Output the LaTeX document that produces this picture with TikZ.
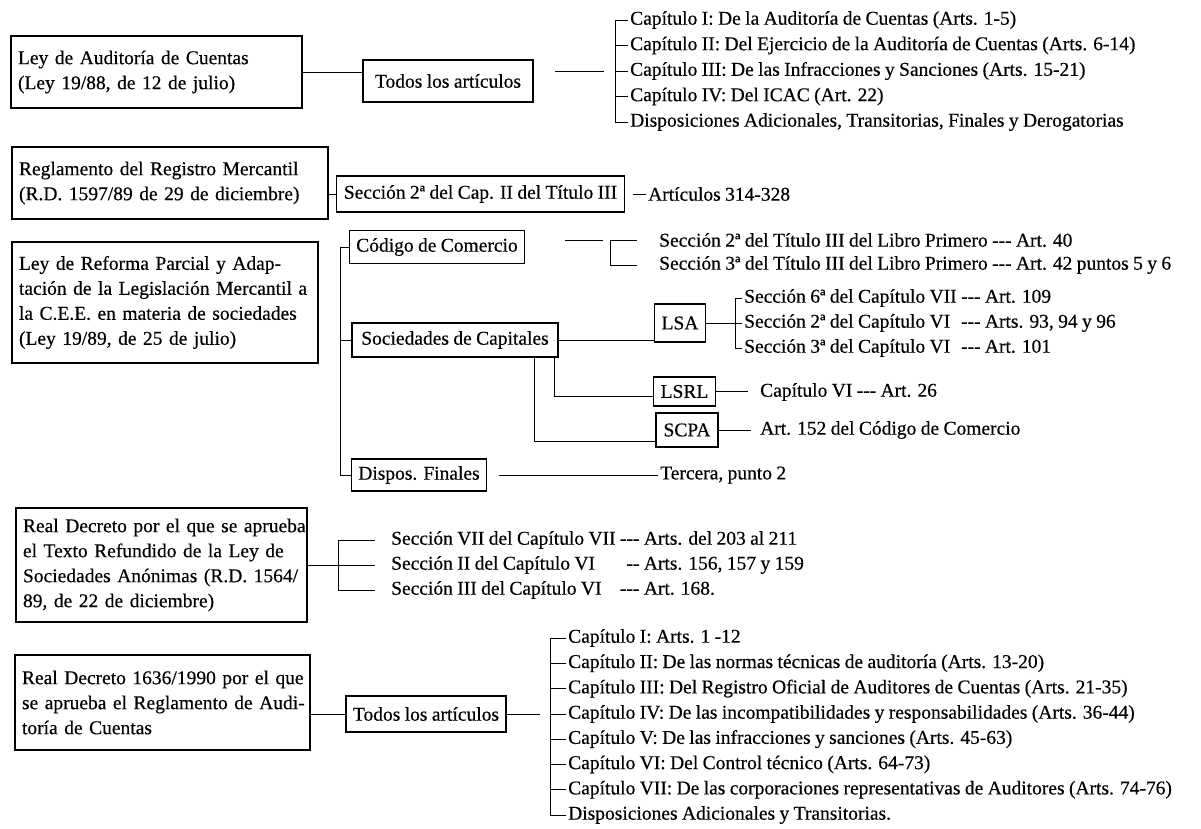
\documentclass[tikz,border=0pt]{standalone}
\usepackage{fontspec}
\setmainfont{Liberation Serif}[WordSpace=0.9,FakeBold=0.4]
\usetikzlibrary{calc}
\newcommand\fs{\fontsize{19.5}{25}\selectfont}
\newcommand\hy{-{}-{}-}
\newlength\wa
\newlength\wb
\tikzset{
  bx/.style={draw, line width=1.1pt, inner xsep=7pt, inner ysep=3pt, font=\fs, align=center},
  bxt/.style={bx, align=left, execute at begin node={\setlength\parindent{0pt}}},
  lt/.style={anchor=west, inner xsep=2pt, inner ysep=1pt, font=\fs},
  cn/.style={line width=0.9pt},
}
\begin{document}
\settowidth\wa{\fs Sección VII del Capítulo VII \hy}%
\settowidth\wb{\fs Sección 6ª del Capítulo VII \hy}%
\begin{tikzpicture}[x=1pt,y=-1pt]
\fill[white] (0,0) rectangle (1201,829);
\useasboundingbox (0,0) rectangle (1201,829);

% ---------- Group 1
\node[bxt, text width=277pt, minimum height=72pt] (b1) at (156.5,72) {Ley de Auditoría de Cuentas\\(Ley 19/88, de 12 de julio)};
\node[bx, minimum width=170pt, minimum height=42pt] (t1) at (448,81) {Todos los artículos};
\draw[cn] (b1.east) -- (b1.east -| t1.west);
\node[lt] (r11) at (628,20) {Capítulo I: De la Auditoría de Cuentas (Arts. 1-5)};
\node[lt] (r12) at (628,45.5) {Capítulo II: Del Ejercicio de la Auditoría de Cuentas (Arts. 6-14)};
\node[lt] (r13) at (628,71) {Capítulo III: De las Infracciones y Sanciones (Arts. 15-21)};
\node[lt] (r14) at (628,96.5) {Capítulo IV: Del ICAC (Art. 22)};
\node[lt] (r15) at (628,122) {Disposiciones Adicionales, Transitorias, Finales y Derogatorias};
\coordinate (k1) at (615,71);
\draw[cn] (r11.west -| k1) -- (r15.west -| k1);
\foreach \r in {r11,r12,r13,r14,r15} \draw[cn] (\r.west -| k1) -- (\r.west);
\coordinate (g1a) at (555,71);
\coordinate (g1b) at (604,71);
\draw[cn] (g1a) -- (g1b);

% ---------- Group 2
\node[bxt, text width=302pt, minimum height=72pt] (b2) at (170,183) {Reglamento del Registro Mercantil\\(R.D. 1597/89 de 29 de diciembre)};
\node[bx, minimum width=269pt, minimum height=36pt] (sec) at (480.5,194) {Sección 2ª del Cap. II del Título III};
\draw[cn] (sec.west -| b2.east) -- (sec.west);
\node[lt] (art) at (646,194) {Artículos 314-328};
\draw[cn] ([xshift=8pt]sec.east) -- (art.west);

% ---------- Group 3
\node[bxt, text width=292pt, minimum height=121pt] (b3) at (165,302.5) {\makebox[\hsize][s]{Ley de Reforma Parcial y Adap-}\\\makebox[\hsize][s]{tación de la Legislación Mercantil a}\\\makebox[\hsize][s]{la C.E.E. en materia de sociedades}\\(Ley 19/89, de 25 de julio)};
\node[bx, minimum width=170pt, minimum height=33pt] (cod) at (437,247) {Código de Comercio};
\node[bx, minimum width=206pt, minimum height=34pt] (soc) at (455,340) {Sociedades de Capitales};
\node[bx, minimum width=134pt, minimum height=32pt] (dis) at (419,475) {Dispos. Finales};
\coordinate (mv) at (340,247);
\draw[cn] (cod.west) -- (cod.west -| mv) -- (dis.west -| mv) -- (dis.west);
\draw[cn] (soc.west) -- (soc.west -| mv);

\node[lt] (c1) at (657,240) {Sección 2ª del Título III del Libro Primero \hy{} Art. 40};
\node[lt] (c2) at (657,265) {Sección 3ª del Título III del Libro Primero \hy{} Art. 42 puntos 5 y 6};
\coordinate (k3) at (610,240);
\draw[cn] (c1.west -| k3) -- (c2.west -| k3);
\draw[cn, shorten >=20pt] (c1.west -| k3) -- (c1.west);
\draw[cn, shorten >=20pt] (c2.west -| k3) -- (c2.west);
\coordinate (g3a) at (565,240);
\coordinate (g3b) at (603,240);
\draw[cn] (g3a) -- (g3b);

\node[bx, minimum width=48pt, minimum height=38pt] (lsa) at (680,323) {LSA};
\draw[cn] (soc.east) -- (soc.east -| lsa.west);
\node[lt] (l1) at (742,298) {Sección 6ª del Capítulo VII \hy{} Art. 109};
\node[lt] (l2) at (742,323) {\makebox[\wb]{Sección 2ª del Capítulo VI\hfill\hy} Arts. 93, 94 y 96};
\node[lt] (l3) at (742,348) {\makebox[\wb]{Sección 3ª del Capítulo VI\hfill\hy} Art. 101};
\coordinate (k4) at (735,323);
\draw[cn] (lsa.east) -- (lsa.east -| k4);
\draw[cn] (l1.west -| k4) -- (l3.west -| k4);
\foreach \r in {l1,l2,l3} \draw[cn] (\r.west -| k4) -- (\r.west);

\node[bx, minimum width=57pt, minimum height=29pt] (lsrl) at (684.5,391.5) {LSRL};
\node[bx, minimum width=62pt, minimum height=34pt] (scpa) at (687,430) {SCPA};
\draw[cn] ([xshift=-4pt]soc.south east) |- ([yshift=-5pt]lsrl.west);
\draw[cn] ([xshift=-24pt]soc.south east) |- ([yshift=-11pt]scpa.west);
\node[lt] (lr) at (758,392) {Capítulo VI \hy{} Art. 26};
\draw[cn, shorten >=10pt] (lsrl.east) -- (lsrl.east -| lr.west);
\node[lt] (sp) at (758,430) {Art. 152 del Código de Comercio};
\draw[cn, shorten >=7pt] (scpa.east) -- (sp.west);
\node[lt] (te) at (658,475) {Tercera, punto 2};
\draw[cn] ([xshift=12pt]dis.east) -- (te.west);

% ---------- Group 4
\node[bxt, text width=277pt, minimum height=114pt] (b4) at (161.5,565) {\makebox[\hsize][s]{Real Decreto por el que se aprueba}\\\makebox[\hsize][s]{el Texto Refundido de la Ley de}\\\makebox[\hsize][s]{Sociedades Anónimas (R.D. 1564/}\\89, de 22 de diciembre)};
\node[lt] (d1) at (389,540) {Sección VII del Capítulo VII \hy{} Arts. del 203 al 211};
\node[lt] (d2) at (389,565) {\makebox[\wa]{Sección II del Capítulo VI\hfill-{}-} Arts. 156, 157 y 159};
\node[lt] (d3) at (389,590) {\makebox[\wa]{Sección III del Capítulo VI\hfill\hy} Art. 168.};
\coordinate (k5) at (338,565);
\draw[cn] (b4.east) -- (k5);
\draw[cn] (d1.west -| k5) -- (d3.west -| k5);
\foreach \r in {d1,d2,d3} \draw[cn, shorten >=14pt] (\r.west -| k5) -- (\r.west);

% ---------- Group 5
\node[bxt, text width=281pt, minimum height=95pt] (b5) at (162.5,702.5) {\makebox[\hsize][s]{Real Decreto 1636/1990 por el que}\\\makebox[\hsize][s]{se aprueba el Reglamento de Audi-}\\toría de Cuentas};
\node[bx, minimum width=160pt, minimum height=36pt] (t5) at (426,714) {Todos los artículos};
\draw[cn] (t5.west -| b5.east) -- (t5.west);
\node[lt] (e1) at (566,638) {Capítulo I: Arts. 1 -12};
\node[lt] (e2) at (566,663.3) {Capítulo II: De las normas técnicas de auditoría (Arts. 13-20)};
\node[lt] (e3) at (566,688.6) {Capítulo III: Del Registro Oficial de Auditores de Cuentas (Arts. 21-35)};
\node[lt] (e4) at (566,714) {Capítulo IV: De las incompatibilidades y responsabilidades (Arts. 36-44)};
\node[lt] (e5) at (566,739.1) {Capítulo V: De las infracciones y sanciones (Arts. 45-63)};
\node[lt] (e6) at (566,764.4) {Capítulo VI: Del Control técnico (Arts. 64-73)};
\node[lt] (e7) at (566,789.7) {Capítulo VII: De las corporaciones representativas de Auditores (Arts. 74-76)};
\node[lt] (e8) at (566,815) {Disposiciones Adicionales y Transitorias.};
\coordinate (k6) at (550,714);
\draw[cn] (e1.west -| k6) -- (e8.west -| k6);
\foreach \r in {e1,e2,e3,e4,e5,e6,e7,e8} \draw[cn] (\r.west -| k6) -- (\r.west);
\coordinate (g5a) at (540,714);
\draw[cn] (t5.east) -- (g5a);
\end{tikzpicture}
\end{document}
